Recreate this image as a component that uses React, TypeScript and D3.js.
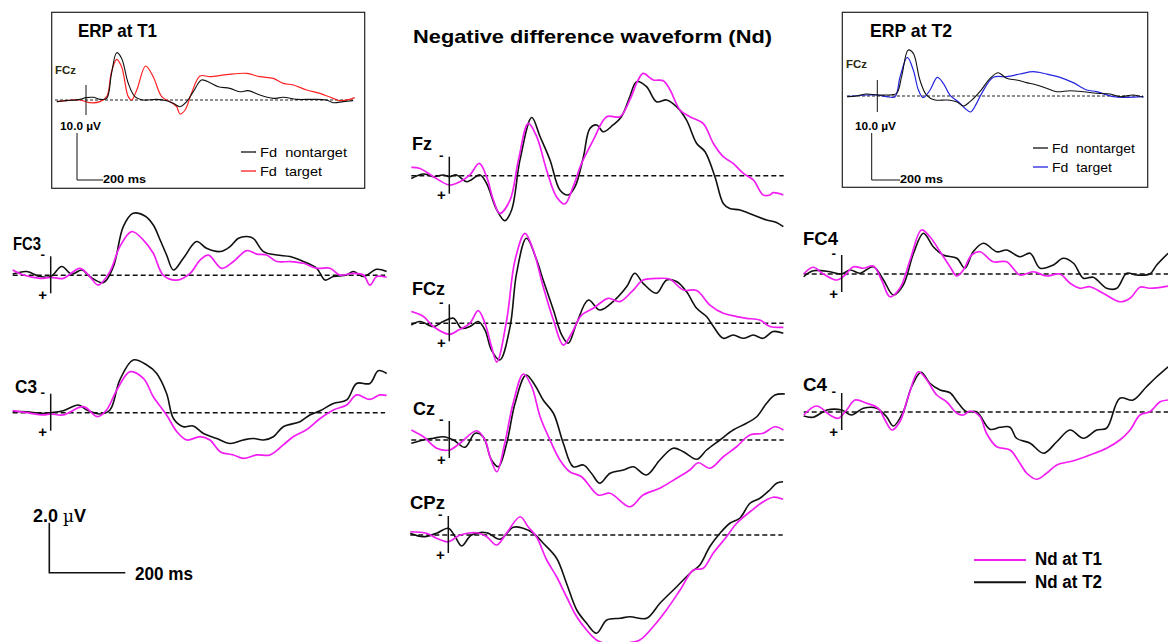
import React from "react";
import * as d3 from "d3";

type Pt = [number, number]; // [time in ms, amplitude in µV] (negative plotted upward)

// ---------- Nd waveforms (T1 = magenta, T2 = black) ----------
const fzT1: Pt[] = [[-100,-0.33],[-77,-0.29],[-42,0.04],[0,0.37],[28,0.24],[54,-0.03],[79,-0.49],[98,0.04],[116,0.97],[133,1.51],[160,0.97],[182,-0.63],[208,-2.09],[230,-1.56],[256,-0.23],[282,0.84],[304,1.13],[326,0.44],[348,-0.49],[379,-1.43],[414,-2.36],[449,-2.36],[475,-3.03],[497,-3.83],[510,-4.09],[537,-3.83],[563,-3.8],[581,-3.43],[607,-2.63],[633,-2.36],[668,-2.09],[695,-1.29],[721,-0.76],[747,-0.49],[774,-0.09],[800,0.17],[826,0.77],[844,0.77],[852,0.68],[879,0.77]];
const fzT2: Pt[] = [[-100,0.11],[-68,-0.07],[-42,0.04],[-16,-0.03],[0,0.04],[19,-0.03],[46,0.24],[81,-0.03],[98,0.31],[125,1.37],[146,1.8],[164,1.37],[186,-0.63],[217,-2.33],[239,-1.56],[265,-0.63],[291,0.57],[313,0.77],[331,0.44],[353,-0.76],[370,-1.89],[388,-2.03],[405,-1.76],[431,-2.03],[453,-2.36],[475,-3.16],[493,-3.76],[519,-3.56],[545,-2.96],[572,-3.03],[598,-2.76],[624,-2.23],[651,-1.29],[673,-0.96],[699,0.04],[721,1.11],[738,1.31],[765,1.37],[800,1.57],[835,1.77],[861,1.87],[879,2.04]];

const fczT1: Pt[] = [[-100,-0.47],[-68,-0.27],[-42,0.13],[0,0.44],[24,0.27],[54,0],[76,-0.51],[94,0],[111,0.93],[125,1.55],[151,-0.13],[173,-2.53],[199,-3.6],[221,-2.93],[247,-1.47],[274,-0.13],[300,0.87],[322,0.4],[348,-0.33],[379,-0.6],[418,-1.0],[449,-0.87],[484,-1.33],[510,-1.73],[554,-1.8],[581,-1.76],[616,-1.33],[651,-1.31],[686,-0.73],[721,-0.4],[756,-0.27],[782,-0.2],[817,-0.13],[844,0.13],[879,0.16]];
const fczT2: Pt[] = [[-100,0.07],[-77,-0.07],[-42,0.13],[-16,-0.07],[11,-0.2],[32,0.2],[54,0.13],[76,-0.07],[94,0.27],[111,1.07],[133,1.47],[160,0.13],[177,-2.0],[203,-3.4],[230,-2.53],[247,-1.73],[274,-0.53],[296,0.47],[313,0.8],[335,0],[366,-0.93],[396,-0.53],[431,-0.87],[467,-1.47],[488,-2.0],[510,-1.6],[545,-1.2],[572,-1.73],[598,-1.67],[624,-1.27],[651,-0.6],[677,-0.27],[695,0.13],[721,0.6],[747,0.47],[774,0.6],[800,0.47],[826,0.6],[852,0.33],[879,0.4]];

const czT1: Pt[] = [[-100,-0.4],[-68,-0.13],[-33,0.33],[0,0.4],[28,0.13],[72,-0.37],[94,0],[107,0.67],[125,1.27],[146,0.13],[168,-1.47],[195,-2.64],[217,-2.13],[239,-0.93],[265,0],[291,0.8],[317,1.27],[348,1.47],[392,2.2],[423,2.13],[475,2.67],[510,2.2],[554,1.93],[598,1.53],[633,1.2],[655,0.91],[686,1.13],[721,0.67],[756,0.27],[791,-0.2],[826,-0.27],[857,-0.53],[879,-0.4]];
const czT2: Pt[] = [[-100,0.13],[-68,0],[-42,-0.07],[-16,-0.13],[11,0],[41,0.29],[68,-0.27],[89,-0.13],[111,0.8],[129,1.07],[151,0.13],[173,-1.47],[202,-2.6],[225,-2.2],[247,-1.6],[274,-1.07],[300,0.13],[326,1.07],[353,1.0],[374,1.33],[396,1.73],[423,1.33],[458,1.2],[484,1.07],[519,1.4],[554,0.8],[589,0.33],[616,0.47],[651,0.77],[677,0.4],[712,0],[747,-0.4],[782,-0.67],[809,-0.93],[835,-1.47],[857,-1.8],[883,-1.84]];

const cpzT1: Pt[] = [[-100,-0.13],[-57,-0.07],[-31,0.13],[0,0.27],[31,0],[75,-0.09],[101,0.07],[127,0.4],[153,-0.07],[189,-0.73],[210,-0.33],[232,0.07],[259,1.0],[285,1.67],[311,2.47],[338,3.27],[364,3.8],[390,4.2],[434,4.4],[469,4.33],[504,4.2],[539,3.67],[574,3.0],[610,2.2],[645,1.4],[671,1.33],[697,0.73],[732,0.07],[759,-0.47],[794,-0.93],[829,-1.33],[855,-1.51],[881,-1.43]];
const cpzT2: Pt[] = [[-100,-0.07],[-66,0.07],[-31,-0.07],[0,-0.27],[18,0.07],[35,0.44],[61,0],[101,-0.09],[136,0.17],[171,-0.31],[197,-0.27],[224,-0.07],[250,0.33],[285,0.93],[311,1.93],[338,3.0],[364,3.53],[390,3.93],[417,3.4],[452,3.33],[478,3.27],[522,3.33],[557,2.73],[601,2.07],[636,1.53],[662,1.2],[688,0.47],[715,-0.07],[741,-0.47],[767,-0.67],[794,-1.27],[820,-1.47],[846,-1.8],[864,-2.07],[881,-2.13]];

const fc3T1: Pt[] = [[-100,-0.21],[-72,-0.01],[-28,0.12],[0,0.08],[33,0.12],[77,-0.28],[103,0.05],[125,0.39],[156,-0.15],[182,-1.15],[213,-1.75],[244,-1.41],[270,-0.88],[296,-0.01],[332,0.19],[367,-0.08],[393,-0.61],[415,-0.81],[450,-0.28],[481,-0.55],[516,-0.99],[542,-0.85],[568,-0.81],[595,-0.55],[630,-0.55],[665,-0.48],[700,-0.28],[735,-0.28],[761,-0.01],[796,-0.08],[823,-0.01],[840,0.39],[858,0.05],[884,0.08]];
const fc3T2: Pt[] = [[-100,-0.05],[-63,-0.15],[-28,0.05],[0,0.05],[29,-0.35],[55,-0.05],[82,-0.21],[103,0.05],[139,0.29],[165,-0.35],[191,-1.95],[217,-2.48],[248,-2.37],[270,-2.01],[288,-1.41],[305,-0.81],[323,-0.21],[349,-0.68],[384,-1.35],[410,-1.08],[446,-0.95],[472,-1.15],[494,-1.48],[516,-1.55],[533,-1.48],[560,-0.95],[595,-0.81],[630,-0.75],[665,-0.55],[700,-0.28],[722,0.19],[744,0.05],[779,-0.01],[796,-0.15],[823,0.05],[858,-0.24],[884,-0.15]];

const c3T1: Pt[] = [[-100,-0.08],[-63,0],[-19,0.09],[0,0.05],[33,0.09],[86,-0.24],[123,0.16],[147,-0.11],[174,-0.91],[209,-1.64],[244,-1.37],[270,-0.64],[305,0.09],[332,0.76],[358,1.09],[393,0.96],[419,1.09],[446,1.56],[481,1.69],[507,1.83],[542,1.69],[577,1.69],[612,1.29],[638,0.96],[674,0.67],[709,0.23],[744,-0.11],[779,-0.31],[805,-0.71],[840,-0.53],[866,-0.71],[884,-0.69]];
const c3T2: Pt[] = [[-100,-0.04],[-63,-0.04],[-28,0.03],[0,0],[33,-0.08],[73,-0.31],[95,-0.11],[130,0.05],[156,-0.11],[182,-1.31],[217,-2.11],[253,-1.91],[279,-1.57],[305,-0.77],[323,0.23],[349,0.56],[375,0.53],[402,0.83],[437,1.03],[472,1.23],[507,1.09],[533,1.03],[560,1.09],[586,0.96],[612,0.56],[656,0.36],[682,0.09],[709,-0.08],[744,-0.37],[779,-0.51],[805,-1.17],[840,-1.17],[862,-1.68],[884,-1.57]];

const fc4T1: Pt[] = [[-100,0],[-75,-0.27],[-48,0],[-13,0.24],[9,0.04],[31,-0.29],[57,-0.23],[83,-0.32],[105,0.24],[127,0.91],[153,0.57],[180,-0.56],[210,-1.76],[232,-1.49],[259,-0.89],[285,-0.29],[303,0.08],[320,-0.16],[342,-0.76],[364,-0.89],[399,-0.49],[434,-0.49],[469,0.04],[504,-0.09],[539,0.08],[574,0],[601,0.37],[627,0.57],[653,0.51],[688,0.77],[732,1.11],[759,0.97],[785,0.53],[811,0.57],[859,0.48]];
const fc4T2: Pt[] = [[-100,0.11],[-75,-0.13],[-31,-0.09],[0,0],[22,-0.16],[48,-0.03],[83,-0.29],[110,0.24],[136,0.84],[162,0.44],[189,-0.83],[215,-1.63],[241,-1.09],[267,-0.76],[303,-0.63],[324,-0.23],[346,-0.89],[373,-1.23],[408,-0.89],[434,-0.96],[469,-0.69],[496,-0.83],[522,-0.23],[557,-0.36],[583,-0.63],[610,-0.43],[636,0.17],[662,0.13],[697,0.57],[724,0.57],[750,-0.03],[776,0.04],[811,0],[829,-0.36],[859,-0.83]];

const c4T1: Pt[] = [[-100,0.12],[-66,-0.24],[-31,0.12],[-9,0.25],[13,-0.08],[35,-0.48],[66,-0.35],[96,-0.15],[114,0.32],[132,0.72],[153,0.39],[175,-0.61],[202,-1.61],[224,-1.28],[250,-0.68],[276,-0.41],[303,0.05],[320,0.12],[338,-0.04],[364,0.19],[381,0.85],[408,1.39],[443,1.52],[469,2.05],[487,2.45],[513,2.69],[539,2.45],[566,2.12],[610,1.95],[653,1.72],[697,1.45],[732,1.12],[759,0.72],[785,0.12],[811,-0.01],[838,-0.41],[859,-0.48]];
const c4T2: Pt[] = [[-100,0.16],[-75,0.21],[-39,-0.08],[0,-0.08],[26,0.12],[57,-0.15],[92,-0.15],[118,0.19],[136,0.56],[162,-0.01],[184,-1.01],[209,-1.59],[232,-1.15],[259,-0.88],[285,-0.77],[307,-0.35],[329,-0.01],[355,-0.01],[390,0.69],[417,0.61],[443,0.61],[460,1.05],[496,1.25],[531,1.65],[566,1.19],[601,0.72],[636,1.05],[671,0.72],[697,0.65],[732,-0.55],[767,-0.48],[802,-1.01],[829,-1.41],[859,-1.81]];

// ---------- Inset ERPs at FCz ----------
const erpT1Nontarget: Pt[] = [[-96,0.35],[-64,0.14],[-20,-0.14],[0,-0.5],[24,-0.57],[46,-0.14],[68,-0.35],[84,-5.67],[101,-10.07],[117,-8.87],[139,-3.55],[161,-0.71],[189,0],[232,-0.14],[265,0.14],[287,0.71],[309,1.42],[331,0.35],[353,-1.77],[380,-4.26],[408,-3.69],[435,-2.84],[473,-2.48],[506,-1.77],[534,-1.99],[572,-1.06],[616,-0.35],[649,-0.57],[693,-0.14],[747,-0.14],[791,0],[813,0.57],[846,0.35],[879,0.14]];
const erpT1Target: Pt[] = [[-96,0.35],[-20,0],[13,0.57],[46,0.35],[68,-0.71],[84,-6.03],[101,-8.65],[117,-7.09],[139,-0.71],[150,0],[167,-2.13],[196,-7.23],[221,-4.96],[249,-0.71],[276,0.35],[298,1.42],[309,2.98],[326,2.13],[347,-1.42],[375,-5.11],[408,-4.96],[463,-5.39],[528,-5.67],[572,-4.96],[616,-4.61],[649,-3.55],[682,-3.19],[726,-2.13],[769,-1.42],[813,-0.35],[835,0.14],[868,-0.14],[884,-0.5]];
const erpT2Nontarget: Pt[] = [[-100,0.14],[-69,0],[-36,-0.43],[0,-0.21],[31,-0.21],[64,-0.57],[81,-4.11],[103,-9.79],[120,-9.08],[142,-3.4],[164,-0.21],[192,0.85],[231,0.85],[264,1.21],[287,2.13],[309,1.21],[342,-0.92],[376,-3.76],[403,-4.96],[431,-3.76],[464,-3.4],[498,-2.84],[531,-2.34],[564,-1.63],[598,-0.92],[642,-1.13],[687,-0.92],[731,-0.57],[776,-0.43],[809,0.14],[853,-0.21],[887,0.28]];
const erpT2Target: Pt[] = [[-100,0.14],[-36,-0.21],[0,-0.21],[31,0.14],[59,0.14],[76,-4.11],[100,-8.23],[120,-5.53],[137,-1.28],[153,0.35],[176,-1.28],[200,-3.97],[220,-2.7],[242,-0.21],[276,1.56],[292,2.62],[311,3.4],[331,1.56],[348,-0.57],[387,-3.97],[431,-4.11],[476,-4.68],[520,-5.18],[564,-4.68],[609,-3.97],[653,-2.84],[698,-1.28],[731,-0.92],[787,0.14],[831,0.28],[887,0.14]];

const timeDomain: [number, number] = [-100, 880];
const title = "Negative difference waveform (Nd)";
const legendLabels = ["Nd at T1", "Nd at T2"];
const insetLegend = ["Fd\u00a0\u00a0nontarget", "Fd\u00a0\u00a0target"];

// ---------- layout ----------
const MAGENTA = "#f21ef2";
const FONT = "'Liberation Sans', Arial, Helvetica, sans-serif";
const PX_PER_MS = 0.38;
const PX_PER_UV = 25;

const panels = [
  { name: "Fz", t1: fzT1, t2: fzT2, onset: 449.3, base: 175.7, lx: 412, ly: 150, lw: 20 },
  { name: "FCz", t1: fczT1, t2: fczT2, onset: 449.3, base: 323.3, lx: 412, ly: 295, lw: 33 },
  { name: "Cz", t1: czT1, t2: czT2, onset: 449.3, base: 440, lx: 413, ly: 415, lw: 22 },
  { name: "CPz", t1: cpzT1, t2: cpzT2, onset: 448.3, base: 535, lx: 410, ly: 509, lw: 35 },
  { name: "FC3", t1: fc3T1, t2: fc3T2, onset: 50.7, base: 275.3, lx: 13, ly: 250, lw: 28 },
  { name: "C3", t1: c3T1, t2: c3T2, onset: 50.7, base: 412.7, lx: 15, ly: 393, lw: 22 },
  { name: "FC4", t1: fc4T1, t2: fc4T2, onset: 841.7, base: 274, lx: 803, ly: 245, lw: 35 },
  { name: "C4", t1: c4T1, t2: c4T2, onset: 841.7, base: 412, lx: 803, ly: 391, lw: 24 },
];

function Panel({ p }: { p: (typeof panels)[number] }) {
  const x = d3.scaleLinear().domain([0, 1]).range([p.onset, p.onset + PX_PER_MS]);
  const y = d3.scaleLinear().domain([0, 1]).range([p.base, p.base + PX_PER_UV]);
  const line = d3
    .line<Pt>()
    .x((d) => x(d[0]))
    .y((d) => y(d[1]))
    .curve(d3.curveCatmullRom.alpha(0.5));
  return (
    <g>
      <line x1={x(timeDomain[0])} x2={x(timeDomain[1])} y1={y(0)} y2={y(0)} stroke="#111" strokeWidth={1.6} strokeDasharray="5 3" />
      <path d={line(p.t2) || ""} fill="none" stroke="#111" strokeWidth={1.6} />
      <path d={line(p.t1) || ""} fill="none" stroke={MAGENTA} strokeWidth={1.7} />
      <line x1={x(0)} x2={x(0)} y1={y(-0.76)} y2={y(0.72)} stroke="#111" strokeWidth={1.5} />
      <text x={x(0) - 8} y={y(-0.64)} fontFamily={FONT} fontWeight="bold" fontSize={12} textAnchor="middle" textLength={4.5} lengthAdjust="spacingAndGlyphs">-</text>
      <text x={x(0) - 8} y={y(0.98)} fontFamily={FONT} fontWeight="bold" fontSize={15} textAnchor="middle">+</text>
      <text x={p.lx} y={p.ly} fontFamily={FONT} fontWeight="bold" fontSize={19} textLength={p.lw} lengthAdjust="spacingAndGlyphs">{p.name}</text>
    </g>
  );
}

const insets = [
  {
    title: "ERP at T1", a: erpT1Nontarget, b: erpT1Target, color: "#ff2020",
    box: [51.7, 12.3, 313, 176], tx: 78, tw: 79, onset: 86, base: 100, pxms: 0.304,
    fczX: 55, fczY: 74, dashX: [55, 355], mark: [85, 115],
    uvX: 60, sbX: 77, sbY: [133, 180], sbX2: 103, legX: 241,
    legY: [152, 171], legTW: [87, 62],
  },
  {
    title: "ERP at T2", a: erpT2Nontarget, b: erpT2Target, color: "#2424e0",
    box: [842.3, 12.3, 305.4, 175], tx: 870, tw: 82, onset: 877.3, base: 96, pxms: 0.3,
    fczX: 846, fczY: 68, dashX: [847, 1143], mark: [80, 112],
    uvX: 855, sbX: 871.7, sbY: [133, 180], sbX2: 900, legX: 1033,
    legY: [148, 167], legTW: [83, 60],
  },
];

function Inset({ s }: { s: (typeof insets)[number] }) {
  const x = d3.scaleLinear().domain([0, 1]).range([s.onset, s.onset + s.pxms]);
  const y = d3.scaleLinear().domain([0, 1]).range([s.base, s.base + 4.7]);
  const line = d3.line<Pt>().x((d) => x(d[0])).y((d) => y(d[1])).curve(d3.curveCatmullRom.alpha(0.5));
  const [bx, by, bw, bh] = s.box;
  return (
    <g>
      <rect x={bx} y={by} width={bw} height={bh} fill="white" stroke="#222" strokeWidth={1.2} />
      <text x={s.tx} y={37} fontFamily={FONT} fontWeight="bold" fontSize={19} textLength={s.tw} lengthAdjust="spacingAndGlyphs">{s.title}</text>
      <text x={s.fczX} y={s.fczY} fontFamily={FONT} fontWeight="bold" fontSize={11} fill="#2a2a10" textLength={21} lengthAdjust="spacingAndGlyphs">FCz</text>
      <line x1={s.dashX[0]} x2={s.dashX[1]} y1={s.base} y2={s.base} stroke="#222" strokeWidth={1} strokeDasharray="3 2" />
      <path d={line(s.b) || ""} fill="none" stroke={s.color} strokeWidth={1.2} />
      <path d={line(s.a) || ""} fill="none" stroke="#111" strokeWidth={1.1} />
      <line x1={s.onset} x2={s.onset} y1={s.mark[0]} y2={s.mark[1]} stroke="#111" strokeWidth={1} />
      <text x={s.uvX} y={130} fontFamily={FONT} fontWeight="bold" fontSize={11} textLength={41} lengthAdjust="spacingAndGlyphs">10.0 µV</text>
      <polyline points={`${s.sbX},${s.sbY[0]} ${s.sbX},${s.sbY[1]} ${s.sbX2},${s.sbY[1]}`} fill="none" stroke="#111" strokeWidth={1} />
      <text x={s.sbX2} y={183} fontFamily={FONT} fontWeight="bold" fontSize={11} textLength={43} lengthAdjust="spacingAndGlyphs">200 ms</text>
      <line x1={s.legX} x2={s.legX + 15} y1={s.legY[0]} y2={s.legY[0]} stroke="#111" strokeWidth={1.3} />
      <text x={s.legX + 19} y={s.legY[0] + 5} fontFamily={FONT} fontSize={13.5} textLength={s.legTW[0]} lengthAdjust="spacingAndGlyphs">{insetLegend[0]}</text>
      <line x1={s.legX} x2={s.legX + 15} y1={s.legY[1]} y2={s.legY[1]} stroke={s.color} strokeWidth={1.3} />
      <text x={s.legX + 19} y={s.legY[1] + 5} fontFamily={FONT} fontSize={13.5} textLength={s.legTW[1]} lengthAdjust="spacingAndGlyphs">{insetLegend[1]}</text>
    </g>
  );
}

export default function App() {
  // scale bar drawn using the same µV / ms scales as the panels
  const sx = d3.scaleLinear().domain([0, 1]).range([49.3, 49.3 + PX_PER_MS]);
  const sy = d3.scaleLinear().domain([0, 1]).range([572.7, 572.7 - PX_PER_UV]);
  return (
    <svg width={1168} height={642} style={{ position: "absolute", left: 0, top: 0, background: "white" }}>
      <rect x={0} y={0} width={1168} height={642} fill="white" />
      {insets.map((s) => <Inset key={s.title} s={s} />)}
      <text x={413} y={43} fontFamily={FONT} fontWeight="bold" fontSize={19} textLength={359} lengthAdjust="spacingAndGlyphs">{title}</text>
      {panels.map((p) => <Panel key={p.name} p={p} />)}
      {/* scale bar */}
      <polyline points={`${sx(0)},${sy(2)} ${sx(0)},${sy(0)} ${sx(200)},${sy(0)}`} fill="none" stroke="#111" strokeWidth={1.6} />
      <text x={33} y={522} fontFamily={FONT} fontWeight="bold" fontSize={18}>
        2.0 <tspan fontFamily="'DejaVu Serif', serif" fontWeight="normal" fontSize={17}>µ</tspan>V
      </text>
      <text x={135} y={580} fontFamily={FONT} fontWeight="bold" fontSize={18} textLength={58} lengthAdjust="spacingAndGlyphs">200 ms</text>
      {/* legend */}
      <line x1={974} x2={1026} y1={560} y2={560} stroke={MAGENTA} strokeWidth={2} />
      <text x={1035} y={565} fontFamily={FONT} fontWeight="bold" fontSize={18} textLength={67} lengthAdjust="spacingAndGlyphs">{legendLabels[0]}</text>
      <line x1={974} x2={1026} y1={582.3} y2={582.3} stroke="#111" strokeWidth={2} />
      <text x={1035} y={588} fontFamily={FONT} fontWeight="bold" fontSize={18} textLength={67} lengthAdjust="spacingAndGlyphs">{legendLabels[1]}</text>
    </svg>
  );
}
